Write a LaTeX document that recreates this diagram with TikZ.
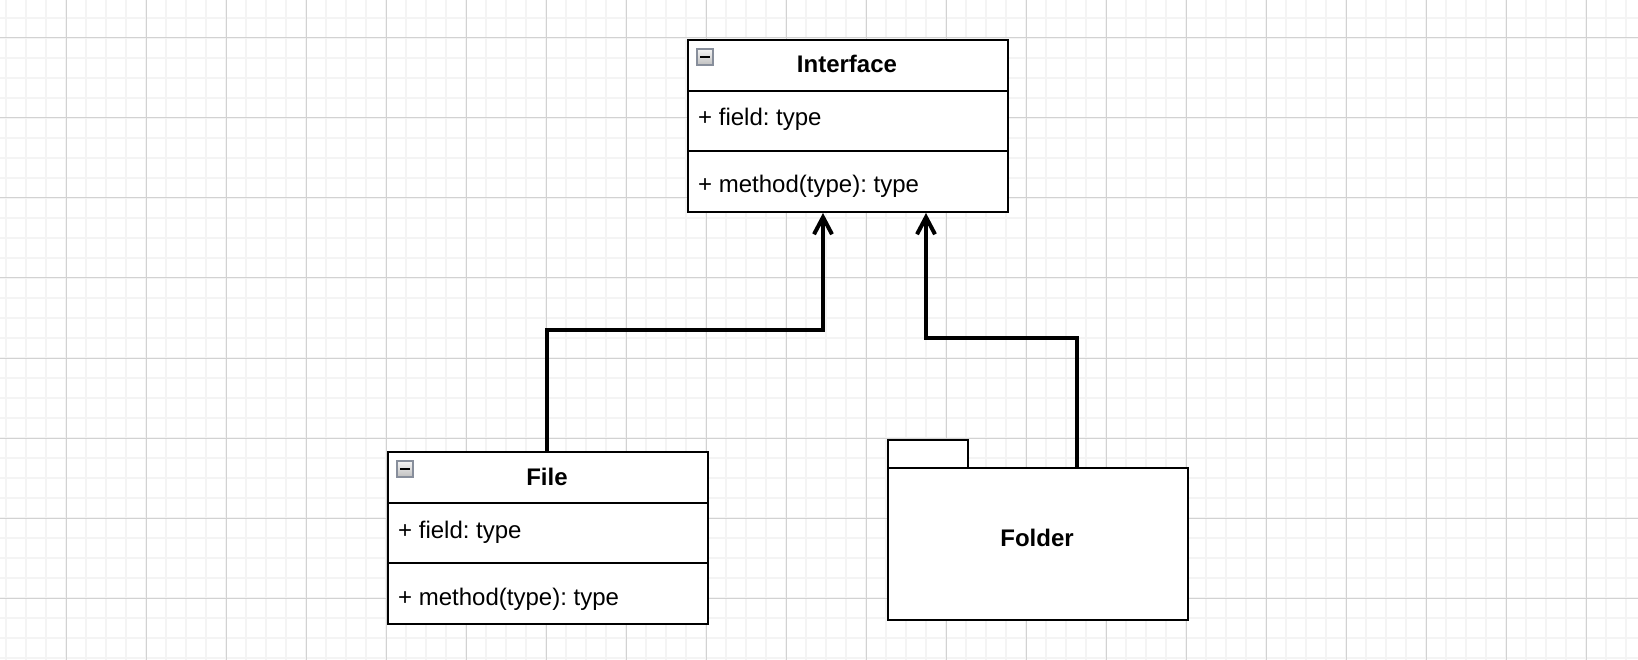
\documentclass[tikz,border=0pt]{standalone}
\usepackage{fontspec}
\setmainfont{Liberation Sans}
\usetikzlibrary{arrows.meta}
\frenchspacing
\definecolor{gridminor}{RGB}{244,244,244}
\definecolor{gridmajor}{RGB}{210,210,210}
\definecolor{icongray}{RGB}{135,142,155}
\tikzset{
  minorline/.style={draw=gridminor, line width=1.4pt},
  majorline/.style={draw=gridmajor, line width=1pt},
  umlbox/.style={draw=black, fill=white, line width=2pt, inner sep=0pt, anchor=north west},
  sepline/.style={draw=black, line width=2pt},
  titletext/.style={font=\fontsize{24}{28}\selectfont\bfseries, inner sep=0pt, anchor=base},
  membertext/.style={font=\fontsize{24}{28}\selectfont, inner sep=0pt, anchor=base west},
  icon/.style={draw=icongray, line width=1.2pt, top color=gray!8, bottom color=gray!50, minimum size=16pt, inner sep=0pt},
  icondash/.style={draw=black, line width=2pt},
  conn/.style={draw=black, line width=4pt, line join=miter, -{Straight Barb[length=17pt,width=18pt]}}
}
\begin{document}
\begin{tikzpicture}[x=1pt,y=-1pt]
\useasboundingbox (0,0) rectangle (1638,660);
\fill[white] (0,0) rectangle (1638,660);
% grid
\foreach \x in {6,26,...,1626} \draw[minorline] (\x,0) -- (\x,660);
\foreach \y in {18,38,...,658} \draw[minorline] (0,\y) -- (1638,\y);
\foreach \x in {66,146,...,1586} \draw[majorline] (\x,0) -- (\x,660);
\foreach \y in {38,118,...,598} \draw[majorline] (0,\y) -- (1638,\y);

% Interface class
\node[umlbox, minimum width=320pt, minimum height=172pt] (iface) at (687,39) {};
\draw[sepline] (687,91) -- (1007,91);
\draw[sepline] (687,151) -- (1007,151);
\node[titletext] (iface-t) at (847,73) {Interface};
\node[membertext] (iface-f) at (698,126) {+ field: type};
\node[membertext] (iface-m) at (698,193) {+ method(type): type};
\node[icon] (iface-ico) at (705,57) {};
\draw[icondash] ([xshift=-5pt]iface-ico.center) -- ([xshift=5pt]iface-ico.center);

% File class
\node[umlbox, minimum width=320pt, minimum height=172pt] (file) at (387,451) {};
\draw[sepline] (387,503) -- (707,503);
\draw[sepline] (387,563) -- (707,563);
\node[titletext] (file-t) at (547,485) {File};
\node[membertext] (file-f) at (398,538) {+ field: type};
\node[membertext] (file-m) at (398,605) {+ method(type): type};
\node[icon] (file-ico) at (405,469) {};
\draw[icondash] ([xshift=-5pt]file-ico.center) -- ([xshift=5pt]file-ico.center);

% Folder package
\node[umlbox, minimum width=80pt, minimum height=28pt] (ftab) at (887,439) {};
\node[umlbox, minimum width=300pt, minimum height=152pt] (fbody) at (887,467) {};
\node[titletext] (fbody-t) at (1037,546) {Folder};

% connectors
\draw[conn] ([xshift=-1pt]file.north) -- ++(0,-121) -| ([xshift=-25pt]iface.south);
\draw[conn] ([xshift=39pt]fbody.north) -- ++(0,-129.5) -| ([xshift=78pt]iface.south);
\end{tikzpicture}
\end{document}
